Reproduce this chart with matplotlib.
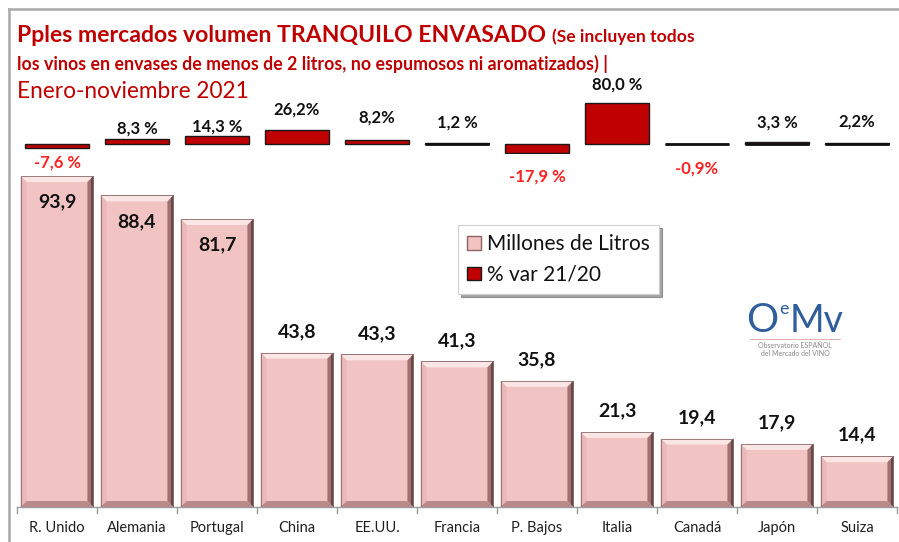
import matplotlib
matplotlib.use("Agg")
import matplotlib.pyplot as plt
from matplotlib.patches import Polygon, Rectangle, Patch
from matplotlib.lines import Line2D
import numpy as np

plt.rcParams['font.family'] = ['Lato', 'DejaVu Sans']

# ---------------- data ----------------
categories = ["R. Unido", "Alemania", "Portugal", "China", "EE.UU.", "Francia",
              "P. Bajos", "Italia", "Canadá", "Japón", "Suiza"]
volumen = [93.9, 88.4, 81.7, 43.8, 43.3, 41.3, 35.8, 21.3, 19.4, 17.9, 14.4]
volumen_labels = ["93,9", "88,4", "81,7", "43,8", "43,3", "41,3", "35,8",
                  "21,3", "19,4", "17,9", "14,4"]
var_pct = [-7.6, 8.3, 14.3, 26.2, 8.2, 1.2, -17.9, 80.0, -0.9, 3.3, 2.2]
var_labels = ["-7,6 %", "8,3 %", "14,3 %", "26,2%", "8,2%", "1,2 %", "-17,9 %",
              "80,0 %", "-0,9%", "3,3 %", "2,2%"]
legend_labels = ["Millones de Litros", "% var 21/20"]

# ---------------- layout helpers ----------------
W, H = 899, 542
fig = plt.figure(figsize=(W / 100, H / 100), dpi=100)
fig.patch.set_facecolor("white")


def fx(px):
    return px / W


def fy(py):
    return 1 - py / H


RED = "#C00000"
TXTRED = "#FF2020"
PINK = "#F2C3C3"

# outer frame
fig.add_artist(Line2D([fx(9), fx(9)], [fy(9), fy(542)], color="#A8A8A8", lw=1.8))
fig.add_artist(Line2D([fx(9), fx(899)], [fy(9), fy(9)], color="#A8A8A8", lw=1.8))

# ---------------- lower axes: volume ----------------
x0, x1 = 17, 897
base = 507
ppu = 3.525  # px per unit
ymax = 100
axb = fig.add_axes([fx(x0), fy(base), fx(x1 - x0), ymax * ppu / H])
axb.set_xlim(-0.5, len(categories) - 0.5)
axb.set_ylim(0, ymax)
axb.patch.set_alpha(0)
for s in ["top", "right", "left"]:
    axb.spines[s].set_visible(False)
axb.spines["bottom"].set_color("#9A9A9A")
axb.spines["bottom"].set_linewidth(1.0)
axb.set_yticks([])
axb.set_xticks(np.arange(len(categories)))
axb.set_xticklabels(categories, fontsize=10.5, color="#202020")
axb.tick_params(axis="x", length=0, pad=10)
for b in np.arange(len(categories) + 1) - 0.5:
    axb.plot([b, b], [0, -1.6], color="#9A9A9A", lw=1.0, clip_on=False)

xs = np.arange(len(categories))
bw = 0.91
bars = axb.bar(xs, volumen, width=bw, color=PINK, edgecolor="#8A6A6A",
               linewidth=0.6, zorder=2)

bx = 0.075
by = 6 / ppu
for x, v in zip(xs, volumen):
    L, R, T = x - bw / 2, x + bw / 2, v
    axb.add_patch(Polygon([(L, T), (R, T), (R - bx, T - by), (L + bx, T - by)],
                          closed=True, facecolor="#FBE6E6", edgecolor="none", zorder=3))
    axb.add_patch(Polygon([(L, 0), (L, T), (L + bx, T - by), (L + bx, by)],
                          closed=True, facecolor="#E9B8B8", edgecolor="none", zorder=3))
    axb.add_patch(Polygon([(R, 0), (R, T), (R - bx, T - by), (R - bx, by)],
                          closed=True, facecolor="#A07272", edgecolor="none", zorder=3))
    axb.add_patch(Polygon([(R, 0), (R, T), (R - bx * 0.4, T - by * 0.4), (R - bx * 0.4, by * 0.4)],
                          closed=True, facecolor="#6A4646", edgecolor="none", zorder=3))
    axb.add_patch(Polygon([(L, 0), (R, 0), (R - bx, by), (L + bx, by)],
                          closed=True, facecolor="#B88A8A", edgecolor="none", zorder=3))
    axb.add_patch(Rectangle((L, 0), bw, T, facecolor="none", edgecolor="#8A6A6A",
                            lw=0.6, zorder=4))

for x, v, lab in zip(xs, volumen, volumen_labels):
    off = -26 if v > 70 else 21
    axb.annotate(lab, (x, v), xytext=(0, off), textcoords="offset pixels",
                 ha="center", va="center", fontsize=14, fontweight="bold",
                 color="#111111", zorder=5)

# ---------------- upper axes: % var ----------------
zero = 143.7
ppp = 0.51
tlo, thi = -20, 82
axt = fig.add_axes([fx(x0), fy(zero - tlo * ppp), fx(x1 - x0), (thi - tlo) * ppp / H])
axt.set_xlim(-0.5, len(categories) - 0.5)
axt.set_ylim(tlo, thi)
axt.axis("off")
axt.patch.set_alpha(0)
tbars = axt.bar(xs, var_pct, width=0.81, color=RED, edgecolor="#1A1A1A",
                linewidth=1.0, zorder=2)
for x, v in zip(xs, var_pct):
    if abs(v) < 5:
        axt.plot([x - 0.405, x + 0.405], [0, 0], color="#111111", lw=2.0,
                 solid_capstyle="butt", zorder=3)

pos_off = [0, 11, 10, 21, 22, 21, 0, 18, 0, 20, 21]
neg_off = [15, 0, 0, 0, 0, 0, 24, 0, 24, 0, 0]
for i, (x, v, lab) in enumerate(zip(xs, var_pct, var_labels)):
    if v >= 0:
        axt.annotate(lab, (x, v), xytext=(0, pos_off[i]), textcoords="offset pixels",
                     ha="center", va="center", fontsize=12, fontweight="bold",
                     color="#111111", annotation_clip=False)
    else:
        axt.annotate(lab, (x, v), xytext=(0, -neg_off[i]), textcoords="offset pixels",
                     ha="center", va="center", fontsize=12, fontweight="bold",
                     color=TXTRED, annotation_clip=False)

# ---------------- titles ----------------
t1 = fig.text(fx(17), fy(36), "Pples mercados volumen TRANQUILO ENVASADO", fontsize=16.6,
              fontweight="bold", color=RED, va="center", ha="left")
fig.canvas.draw()
ext = t1.get_window_extent()
fig.text((ext.x1 + 6) / W, fy(37), "(Se incluyen todos", fontsize=12.6, fontweight="bold",
         color=RED, va="center", ha="left")
fig.text(fx(17), fy(64), "los vinos en envases de menos de 2 litros, no espumosos ni aromatizados) |",
         fontsize=12.8, fontweight="bold", color=RED, va="center", ha="left")
fig.text(fx(17), fy(92), "Enero-noviembre 2021", fontsize=16.3, color=RED,
         va="center", ha="left")

# ---------------- legend ----------------
handles = [Patch(facecolor=PINK, edgecolor="#8E6262", linewidth=1.0),
           Patch(facecolor=RED, edgecolor="#1A1A1A", linewidth=1.0)]
leg = fig.legend(handles, legend_labels, loc="upper left",
                 bbox_to_anchor=(fx(458), fy(225)), frameon=True, fancybox=False,
                 shadow=True, fontsize=15, handlelength=0.65, handleheight=0.65,
                 handletextpad=0.3, labelspacing=0.5, borderpad=0.45,
                 borderaxespad=0)
leg.get_frame().set_edgecolor("#D0D0D0")
leg.get_frame().set_linewidth(0.8)
for t in leg.get_texts():
    t.set_color("#111111")

# ---------------- logo ----------------
BLUE = "#2F5E9C"
tO = fig.text(fx(746), fy(321), "O", fontsize=29, color=BLUE, va="center", ha="left")
fig.canvas.draw()
eO = tO.get_window_extent()
te = fig.text((eO.x1 + 1) / W, fy(309), "e", fontsize=13, color=BLUE, va="center", ha="left")
fig.canvas.draw()
ee = te.get_window_extent()
fig.text((ee.x1 + 1) / W, fy(321), "Mv", fontsize=27, color=BLUE, va="center", ha="left")
fig.add_artist(Line2D([fx(750), fx(840)], [fy(339), fy(339)], color="#E0A0A0", lw=0.6))
fig.text(fx(795), fy(345), "Observatorio ESPAÑOL", fontsize=5, color="#8A8A8A",
         va="center", ha="center")
fig.text(fx(795), fy(353), "del Mercado del VINO", fontsize=5, color="#8A8A8A",
         va="center", ha="center")

fig.savefig("out.png", dpi=100, facecolor="white")
